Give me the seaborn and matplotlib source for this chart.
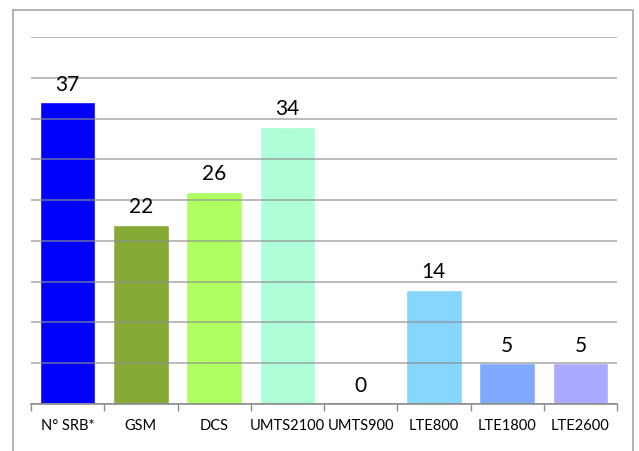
import matplotlib
matplotlib.use("Agg")
import matplotlib.pyplot as plt
from matplotlib.patches import Rectangle
import seaborn as sns
import pandas as pd
import numpy as np

categories = ["N° SRB*", "GSM", "DCS", "UMTS2100", "UMTS900", "LTE800", "LTE1800", "LTE2600"]
counts = [37, 22, 26, 34, 0, 14, 5, 5]
bar_colors = ["#0000FF", "#86AA35", "#AEFF60", "#AEFFD8", "#CCCCCC", "#86D6FF", "#80AAFF", "#AAAAFF"]

df = pd.DataFrame({"category": categories, "count": counts})

sns.set_theme(style="white")
plt.rcParams["font.family"] = ["Lato", "DejaVu Sans"]

fig = plt.figure(figsize=(6.39, 4.52), dpi=100)
W, H = 639, 452
ax = fig.add_axes([31 / W, (H - 405) / H, (617 - 31) / W, (405 - 38) / H])

sns.barplot(data=df, x="category", y="count", hue="category",
            palette=dict(zip(categories, bar_colors)), legend=False,
            width=0.76, saturation=1, ax=ax, zorder=1)

ax.set_ylim(0, 45)
ax.set_xlim(-0.5, len(categories) - 0.5)
ax.set_yticks(np.arange(0, 46, 5))
ax.set_yticklabels([])
ax.tick_params(axis="y", length=0)
ax.grid(axis="y", color="#8C8C8C", linewidth=1.2, alpha=0.7, zorder=3)
ax.set_axisbelow(False)

# category separators below the baseline
ax.set_xticks(np.arange(len(categories)))
ax.set_xticklabels(categories, fontsize=10.5, color="black")
ax.tick_params(axis="x", which="major", length=0, pad=10)
ax.set_xticks(np.arange(-0.5, len(categories), 1.0), minor=True)
ax.tick_params(axis="x", which="minor", length=5, width=1, color="#8C8C8C", bottom=True)

for side in ["top", "right", "left"]:
    ax.spines[side].set_visible(False)
ax.spines["bottom"].set_color("#8C8C8C")
ax.spines["bottom"].set_linewidth(1.2)
ax.set_xlabel("")
ax.set_ylabel("")

for i, v in enumerate(counts):
    ax.annotate(str(v), xy=(i, v), xytext=(0, 9), textcoords="offset points",
                ha="center", va="baseline", fontsize=15, color="black", zorder=5)

# outer chart frame
fig.patches.append(Rectangle((13 / W, -0.05), (633 - 13) / W, 1.05 - 11 / H,
                             transform=fig.transFigure, fill=False,
                             edgecolor="#A6A6A6", linewidth=1.2))

fig.savefig("out.png", dpi=100)
